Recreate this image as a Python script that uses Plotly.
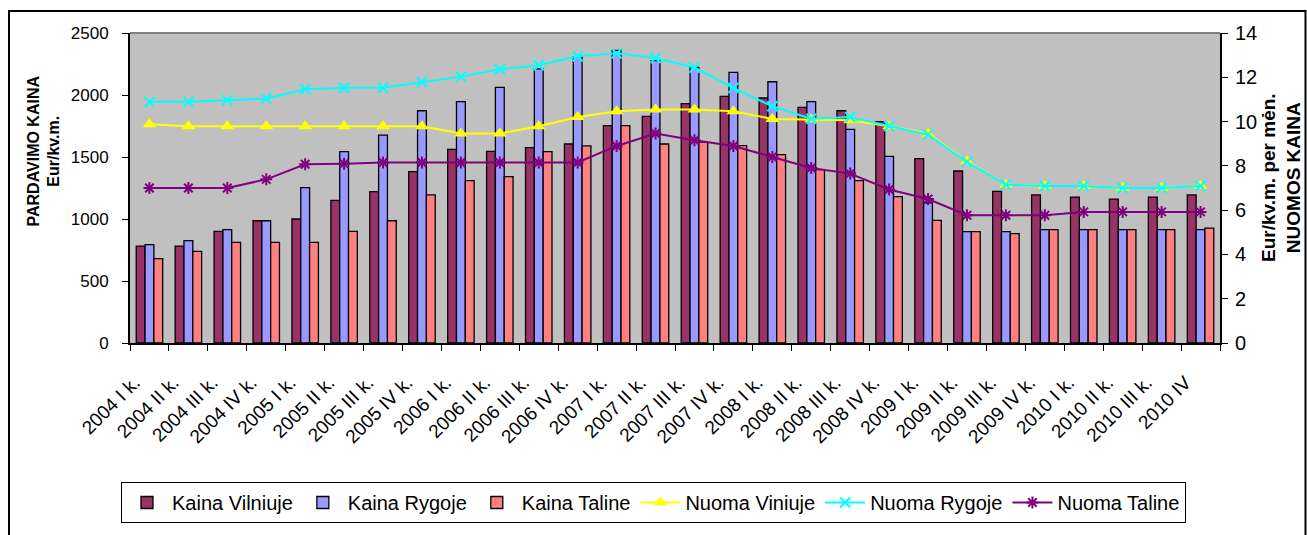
import plotly.graph_objects as go

categories = ["2004 I k.", "2004 II k.", "2004 III k.", "2004 IV k.",
              "2005 I k.", "2005 II k.", "2005 III k.", "2005 IV k.",
              "2006 I k.", "2006 II k.", "2006 III k.", "2006 IV k.",
              "2007 I k.", "2007 II k.", "2007 III k.", "2007 IV k.",
              "2008 I k.", "2008 II k.", "2008 III k.", "2008 IV k.",
              "2009 I k.", "2009 II k.", "2009 III k.", "2009 IV k.",
              "2010 I k.", "2010 II k.", "2010 III k.", "2010 IV"]

kaina_vilniuje = [782, 782, 900, 986, 1000, 1150, 1220, 1382, 1562, 1546,
                  1575, 1605, 1753, 1828, 1930, 1989, 1976, 1900, 1873, 1785,
                  1487, 1387, 1222, 1194, 1177, 1161, 1177, 1194]
kaina_rygoje = [793, 825, 914, 986, 1253, 1543, 1677, 1873, 1946, 2062,
                2210, 2309, 2360, 2277, 2223, 2183, 2107, 1946, 1723, 1505,
                1131, 898, 898, 914, 914, 914, 914, 914]
kaina_taline = [680, 739, 812, 812, 812, 900, 986, 1194, 1309, 1341,
                1543, 1589, 1753, 1605, 1621, 1591, 1519, 1398, 1309, 1180,
                989, 898, 882, 914, 914, 914, 914, 927]

nuoma_viniuje = [9.88, 9.79, 9.79, 9.79, 9.79, 9.79, 9.79, 9.79, 9.46, 9.46,
                 9.79, 10.21, 10.47, 10.54, 10.54, 10.47, 10.12, 10.10, 10.06, 9.79,
                 9.46, 8.21, 7.15, 7.09, 7.09, 7.0, 7.0, 7.09]
nuoma_rygoje = [10.89, 10.89, 10.96, 11.04, 11.46, 11.53, 11.53, 11.79, 12.03, 12.36,
                12.54, 12.95, 13.08, 12.87, 12.44, 11.52, 10.69, 10.13, 10.21, 9.80,
                9.41, 8.18, 7.15, 7.09, 7.09, 7.0, 7.0, 7.09]
nuoma_taline = [7.0, 7.0, 7.0, 7.39, 8.07, 8.10, 8.15, 8.15, 8.15, 8.15,
                8.15, 8.15, 8.90, 9.46, 9.16, 8.90, 8.40, 7.90, 7.65, 6.93,
                6.50, 5.77, 5.77, 5.77, 5.92, 5.92, 5.92, 5.92]

FONT = "Liberation Sans, Arial, sans-serif"
L, R, T, B = 130, 1220, 33, 343
PW, PH = R - L, B - T


def px(x):
    return (x - L) / PW


def py(y):
    return (B - y) / PH


fig = go.Figure()
for name, vals, col in [("Kaina Vilniuje", kaina_vilniuje, "#993366"),
                        ("Kaina Rygoje", kaina_rygoje, "#9999FF"),
                        ("Kaina Taline", kaina_taline, "#FF8080")]:
    fig.add_trace(go.Bar(x=categories, y=vals, name=name,
                         marker=dict(color=col, line=dict(color="black", width=1.3))))

fig.add_trace(go.Scatter(x=categories, y=nuoma_viniuje, name="Nuoma Viniuje", yaxis="y2",
                         mode="lines+markers",
                         line=dict(color="#FFFF00", width=2),
                         marker=dict(symbol="triangle-up", size=12, color="#FFFF00")))
fig.add_trace(go.Scatter(x=categories, y=nuoma_rygoje, name="Nuoma Rygoje", yaxis="y2",
                         mode="lines+markers",
                         line=dict(color="#00FFFF", width=2),
                         marker=dict(symbol="x-thin", size=10, color="#00FFFF",
                                     line=dict(color="#00FFFF", width=2))))
fig.add_trace(go.Scatter(x=categories, y=nuoma_taline, name="Nuoma Taline", yaxis="y2",
                         mode="lines+markers",
                         line=dict(color="#800080", width=2),
                         marker=dict(symbol="asterisk", size=10, color="#800080",
                                     line=dict(color="#800080", width=2))))

fig.update_layout(
    width=1307, height=535,
    margin=dict(l=L, r=1307 - R, t=T, b=535 - B),
    paper_bgcolor="white", plot_bgcolor="#C0C0C0",
    barmode="group", bargap=0.32, bargroupgap=0,
    font=dict(family=FONT, color="black", size=15),
    showlegend=True,
    legend=dict(orientation="h", x=px(121), y=py(482), xanchor="left", yanchor="top",
                bordercolor="black", borderwidth=1, bgcolor="white",
                font=dict(size=20, family=FONT), itemwidth=40,
                traceorder="normal", tracegroupgap=0),
    xaxis=dict(type="category", range=[-0.5, len(categories) - 0.5],
               showgrid=False, showline=True, linecolor="black", linewidth=2,
               ticks="outside", ticklen=6, tickcolor="black", tickson="boundaries",
               tickangle=-45, tickfont=dict(size=19), ticklabelstandoff=19,
               ticklabelshift=-15, zeroline=False),
    yaxis=dict(range=[0, 2500], dtick=500, showgrid=False, showline=True, linecolor="black",
               linewidth=2, ticks="outside", ticklen=6, tickcolor="black", zeroline=False,
               tickfont=dict(size=17), ticklabelstandoff=10),
    yaxis2=dict(range=[0, 14], dtick=2, overlaying="y", side="right", showgrid=False,
                showline=True, linecolor="black", linewidth=2, ticks="outside", ticklen=6,
                tickcolor="black", zeroline=False, tickfont=dict(size=20),
                ticklabelstandoff=3),
    annotations=[
        dict(text="<b>PARDAVIMO KAINA<br>Eur/kv.m.</b>", textangle=-90,
             xref="paper", yref="paper", x=px(43.5), y=py(151),
             xanchor="center", yanchor="middle", showarrow=False,
             font=dict(size=16, family=FONT)),
        dict(text="<b>Eur/kv.m. per mėn.<br>NUOMOS KAINA</b>", textangle=-90,
             xref="paper", yref="paper", x=px(1281), y=py(178),
             xanchor="center", yanchor="middle", showarrow=False,
             font=dict(size=19, family=FONT)),
    ],
    shapes=[
        dict(type="line", xref="paper", yref="paper", x0=0, x1=1, y0=1, y1=1,
             line=dict(color="#808080", width=2)),
        dict(type="rect", xref="paper", yref="paper",
             x0=px(9), x1=px(1305.5), y0=py(545), y1=py(11),
             line=dict(color="black", width=2), layer="below"),
    ],
)

fig.write_html("out.html", config={"displayModeBar": False},
               post_script="document.body.style.margin='0';document.body.style.overflow='hidden';")
